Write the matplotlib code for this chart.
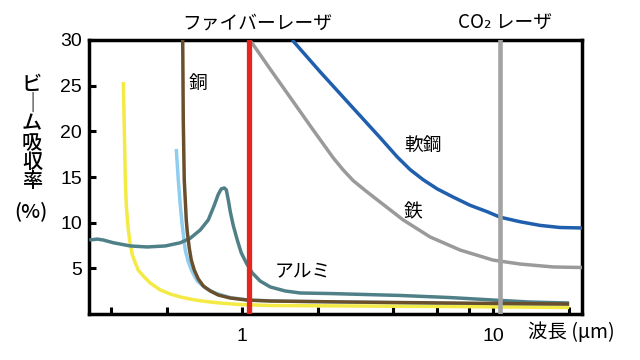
import matplotlib
matplotlib.use("Agg")
import matplotlib.pyplot as plt

plt.rcParams['font.family'] = ['Noto Sans CJK JP', 'DejaVu Sans']

# --- data (wavelength in um, absorptance in %) ---
yellow_x = [0.3357, 0.3388, 0.3419, 0.345, 0.3514, 0.3579, 0.3645, 0.3747, 0.3851, 0.4033, 0.4299,
            0.4713, 0.5165, 0.5662, 0.6497, 0.7455, 0.8556, 0.9818, 1.293, 2.693, 6.74, 20.08]
yellow_y = [25.4, 20.2, 14.7, 11.9, 9.2, 7.6, 6.5, 5.6, 4.8, 4.16, 3.39,
            2.63, 2.19, 1.86, 1.53, 1.31, 1.15, 1.04, 0.93, 0.88, 0.82, 0.71]

lblue_x = [0.5458, 0.5559, 0.5662, 0.5767, 0.5927, 0.6093, 0.6324, 0.6619, 0.712, 0.7806,
           0.896, 1.076, 1.70, 6.74, 20.08]
lblue_y = [18.07, 14.7, 11.9, 9.7, 7.0, 5.7, 4.6, 3.6, 2.85, 2.3,
           1.8, 1.5, 1.38, 1.15, 1.0]

copper_x = [0.579, 0.582, 0.5872, 0.5927, 0.5982, 0.6037, 0.615, 0.6264, 0.6439, 0.668, 0.6994,
            0.7455, 0.8024, 0.8959, 1.047, 1.293, 2.693, 6.74, 20.08]
copper_y = [30, 21.2, 14.7, 12.5, 10.3, 9.0, 7.2, 5.9, 4.8, 3.83, 3.07,
            2.52, 2.08, 1.75, 1.53, 1.42, 1.31, 1.2, 1.09]

alu_x = [0.2457, 0.2645, 0.2794, 0.3062, 0.3579, 0.4182, 0.4934, 0.5662, 0.6206, 0.6802, 0.7321,
         0.7734, 0.8024, 0.8249, 0.8478, 0.8636, 0.8795, 0.8959, 0.9207, 0.9552, 0.9909, 1.0374,
         1.096, 1.1796, 1.2934, 1.4835, 1.7023, 2.2423, 4.2613, 6.741, 10.0, 14.04, 20.08]
alu_y = [8.1, 8.2, 8.1, 7.8, 7.45, 7.34, 7.45, 7.8, 8.3, 9.2, 10.3,
         11.9, 13.1, 13.7, 13.8, 13.6, 12.5, 11.2, 9.7, 8.1, 6.7, 5.6,
         4.5, 3.6, 2.96, 2.52, 2.3, 2.24, 2.03, 1.8, 1.53, 1.31, 1.2]

iron_x = [1.086, 1.293, 1.582, 1.900, 2.304, 2.52, 2.768, 3.1, 3.451, 4.379, 5.611, 7.388,
          10.0, 12.81, 17.34, 22.62]
iron_y = [29.8, 26.8, 23.4, 20.3, 17.1, 15.8, 14.6, 13.5, 12.5, 10.3, 8.43, 7.0,
          5.9, 5.47, 5.15, 5.09]

steel_x = [1.582, 2.046, 2.693, 3.546, 4.146, 4.671, 5.262, 5.983, 6.928, 8.097, 9.465, 10.66,
           12.81, 15.39, 18.49, 22.62]
steel_y = [30, 26.5, 22.9, 19.3, 17.2, 15.8, 14.7, 13.7, 12.8, 11.9, 11.2, 10.6,
           10.1, 9.7, 9.47, 9.42]

fiber_wl = 1.06
co2_wl = 10.6

xticks = [0.3, 0.5, 1, 2, 4, 6, 8, 10, 20]
xticklabels = ['', '', '1', '', '', '', '', '10', '']
yticks = [5, 10, 15, 20, 25, 30]

fig = plt.figure(figsize=(6.4, 3.6), dpi=100)
ax = fig.add_axes([89/640, 1-314/360, (582-89)/640, (314-40)/360])
ax.set_xscale('log')
ax.set_xlim(0.245, 22.6)
ax.set_ylim(0, 30)

lw = 2.5
kw = dict(lw=lw, solid_capstyle='butt', solid_joinstyle='round')
ax.plot(lblue_x, lblue_y, color='#8fcdf0', zorder=2, **kw)
ax.plot(yellow_x, yellow_y, color='#f4ea45', zorder=3, **kw)
ax.plot(alu_x, alu_y, color='#4f8088', zorder=3, **kw)
ax.plot(copper_x, copper_y, color='#6a4f2c', zorder=4, **kw)
ax.plot(iron_x, iron_y, color='#9a9a9a', zorder=3, **kw)
ax.plot(steel_x, steel_y, color='#1f5fae', zorder=3, **kw)
ax.axvline(fiber_wl, color='#e3261f', lw=3.8, zorder=6)
ax.axvline(co2_wl, color='#a3a3a3', lw=3.3, zorder=6)

ax.set_xticks(xticks)
ax.set_xticklabels(xticklabels)
ax.xaxis.set_minor_locator(matplotlib.ticker.NullLocator())
ax.set_yticks(yticks)
ax.tick_params(direction='in', length=5, width=2.2, labelsize=14)
ax.tick_params(axis='x', pad=10)
ax.tick_params(axis='y', pad=5)
for lab in ax.get_xticklabels() + ax.get_yticklabels():
    lab.set_family(['Liberation Sans', 'DejaVu Sans'])
for s in ax.spines.values():
    s.set_linewidth(2.5)

def ftext(x, y, s, **k):
    fig.text(x/640, 1-y/360, s, ha='center', va='center', **k)

ftext(198, 83, '銅', fontsize=13.5)
ftext(423, 145, '軟鋼', fontsize=13.5)
ftext(413, 212, '鉄', fontsize=13.5)
ftext(303, 271, 'アルミ', fontsize=13.5)
ftext(257, 23, 'ファイバーレーザ', fontsize=13.5)
ftext(505, 23, 'CO₂ レーザ', fontsize=13.5)
fig.text(528/640, 1-332/360, '波長 (μm)', fontsize=14, ha='left', va='center')
ftext(32, 133, '\n'.join('ビ｜ム吸収率'), fontsize=14.5, fontweight='medium', linespacing=1.02)
ftext(31, 211, '(%)', fontsize=14.5, fontweight='medium')

fig.savefig('out.png', dpi=100)
